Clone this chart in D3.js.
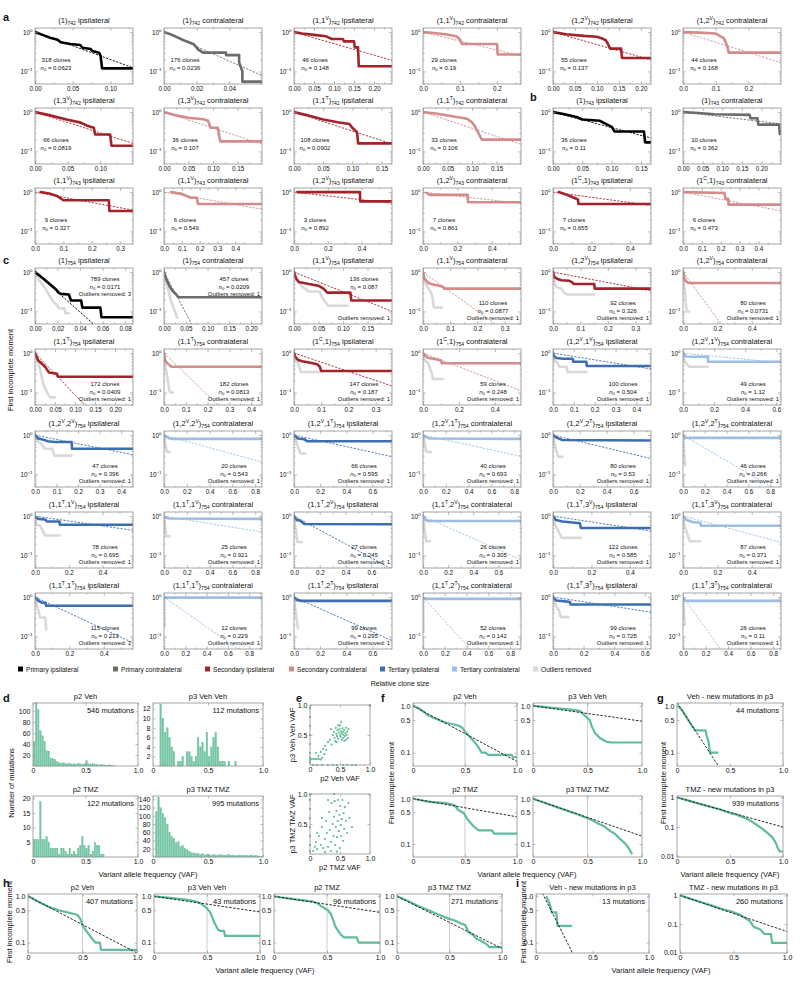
<!DOCTYPE html>
<meta charset="utf-8">
<style>
  body { margin: 0; background: #fff; }
  text { font-family: "Liberation Sans", Arial, Helvetica, sans-serif; white-space: pre; fill: #111; }
</style>
<body>
<svg id="fig" width="800" height="981"></svg>
<script src="https://d3js.org/d3.v7.min.js"></script>
<script>

  // ---------- a, b, c : clone size panels ----------
  const panelTitles = [
    "(1)_742 ipsilateral", "(1)_742 contralateral", "(1,1^V)_742 ipsilateral", "(1,1^V)_742 contralateral", "(1,2^V)_742 ipsilateral", "(1,2^V)_742 contralateral",
    "(1,3^V)_742 ipsilateral", "(1,3^V)_742 contralateral", "(1,1^T)_742 ipsilateral", "(1,1^T)_742 contralateral", "(1)_743 ipsilateral", "(1)_743 contralateral",
    "(1,1^V)_743 ipsilateral", "(1,1^V)_743 contralateral", "(1,2^V)_743 ipsilateral", "(1,2^V)_743 contralateral", "(1^C,1)_743 ipsilateral", "(1^C,1)_743 contralateral",
    "(1)_754 ipsilateral", "(1)_754 contralateral", "(1,1^V)_754 ipsilateral", "(1,1^V)_754 contralateral", "(1,2^V)_754 ipsilateral", "(1,2^V)_754 contralateral",
    "(1,1^T)_754 ipsilateral", "(1,1^T)_754 contralateral", "(1^C,1)_754 ipsilateral", "(1^C,1)_754 contralateral", "(1,2^V,1^V)_754 ipsilateral", "(1,2^V,1^V)_754 contralateral",
    "(1,2^V,2^V)_754 ipsilateral", "(1,2^V,2^V)_754 contralateral", "(1,2^V,1^T)_754 ipsilateral", "(1,2^V,1^T)_754 contralateral", "(1,2^V,2^T)_754 ipsilateral", "(1,2^V,2^T)_754 contralateral",
    "(1,1^T,1^V)_754 ipsilateral", "(1,1^T,1^V)_754 contralateral", "(1,1^T,2^V)_754 ipsilateral", "(1,1^T,2^V)_754 contralateral", "(1,1^T,3^V)_754 ipsilateral", "(1,1^T,3^V)_754 contralateral",
    "(1,1^T,1^T)_754 ipsilateral", "(1,1^T,1^T)_754 contralateral", "(1,1^T,2^T)_754 ipsilateral", "(1,1^T,2^T)_754 contralateral", "(1,1^T,3^T)_754 ipsilateral", "(1,1^T,3^T)_754 contralateral"
  ];

  const panelXMax = [
    0.13, 0.06, 0.245, 0.265, 0.223, 0.3,
    0.15, 0.2, 0.168, 0.2, 0.167, 0.25,
    0.345, 0.55, 0.58, 0.57, 0.51, 0.52,
    0.087, 0.225, 0.2, 0.36, 0.357, 0.57,
    0.245, 0.45, 0.36, 0.545, 0.47, 0.63,
    0.455, 0.86, 0.75, 0.86, 0.73, 0.9,
    0.58, 0.86, 0.76, 0.78, 0.51, 0.57,
    0.57, 0.92, 0.75, 0.9, 0.64, 0.87
  ];

  const panelXTicks = [
    [0, 0.05, 0.1], [0, 0.02, 0.04], [0, 0.05, 0.1, 0.15, 0.2], [0, 0.1, 0.2], [0, 0.05, 0.1, 0.15, 0.2], [0, 0.1, 0.2],
    [0, 0.05, 0.1], [0, 0.05, 0.1, 0.15], [0, 0.05, 0.1, 0.15], [0, 0.05, 0.1, 0.15], [0, 0.05, 0.1, 0.15], [0, 0.05, 0.1, 0.15, 0.2],
    [0, 0.1, 0.2, 0.3], [0, 0.1, 0.2, 0.3, 0.4], [0, 0.2, 0.4], [0, 0.2, 0.4], [0, 0.2, 0.4], [0, 0.1, 0.2, 0.3, 0.4],
    [0, 0.02, 0.04, 0.06, 0.08], [0, 0.05, 0.1, 0.15, 0.2], [0, 0.05, 0.1, 0.15], [0, 0.1, 0.2, 0.3], [0, 0.1, 0.2, 0.3], [0, 0.2, 0.4],
    [0, 0.05, 0.1, 0.15, 0.2], [0, 0.1, 0.2, 0.3, 0.4], [0, 0.1, 0.2, 0.3], [0, 0.2, 0.4], [0, 0.1, 0.2, 0.3, 0.4], [0, 0.2, 0.4, 0.6],
    [0, 0.1, 0.2, 0.3, 0.4], [0, 0.2, 0.4, 0.6, 0.8], [0, 0.2, 0.4, 0.6], [0, 0.2, 0.4, 0.6, 0.8], [0, 0.2, 0.4, 0.6], [0, 0.2, 0.4, 0.6, 0.8],
    [0, 0.2, 0.4], [0, 0.2, 0.4, 0.6, 0.8], [0, 0.2, 0.4, 0.6], [0, 0.2, 0.4, 0.6], [0, 0.2, 0.4], [0, 0.2, 0.4],
    [0, 0.2, 0.4], [0, 0.2, 0.4, 0.6, 0.8], [0, 0.2, 0.4, 0.6], [0, 0.2, 0.4, 0.6, 0.8], [0, 0.2, 0.4, 0.6], [0, 0.2, 0.4, 0.6, 0.8]
  ];

  const panelClones = [
    318, 176, 46, 29, 55, 44, 66, 36, 108, 33, 36, 10, 9, 6, 3, 7, 7, 6,
    789, 457, 136, 110, 92, 80, 172, 182, 147, 59, 100, 49, 47, 20, 66, 40, 80, 46,
    78, 25, 27, 26, 122, 87, 115, 12, 99, 52, 99, 26
  ];

  const panelN0 = [
    "0.0623", "0.0236", "0.148", "0.19", "0.137", "0.168", "0.0819", "0.107", "0.0902", "0.106", "0.11", "0.362",
    "0.327", "0.549", "0.892", "0.861", "0.655", "0.473",
    "0.0171", "0.0209", "0.087", "0.0877", "0.326", "0.0731", "0.0409", "0.0813", "0.187", "0.248", "0.504", "1.12",
    "0.396", "0.543", "0.595", "0.693", "0.53", "0.266", "0.695", "0.921", "0.245", "0.305", "0.585", "0.371",
    "0.213", "0.229", "0.295", "0.142", "0.725", "0.11"
  ];

  const panelOutliers = [
    null, null, null, null, null, null, null, null, null, null, null, null, null, null, null, null, null, null,
    3, 1, 1, 1, 1, 1, 1, 1, 1, 1, 1, 1, 1, 1, 1, 1, 1, 1, 1, 1, 1, 1, 1, 1, 1, 1, 1, 1, 1, 1
  ];

  // where the clone count text sits: a = lower left, t = top right, b = bottom right, s = split
  const panelNotePos = [
    "a", "a", "a", "a", "a", "a", "a", "a", "a", "a", "a", "a", "a", "a", "a", "a", "a", "a",
    "t", "t", "s", "b", "b", "b", "b", "b", "b", "b", "b", "b", "b", "b", "b", "b", "b", "b",
    "b", "b", "b", "b", "b", "b", "b", "b", "b", "b", "b", "b"
  ];

  const panelCurves = [
    [[0,1.0],[0.01,0.85],[0.02,0.72],[0.03,0.64],[0.034,0.55],[0.047,0.5],[0.06,0.47],[0.063,0.4],[0.074,0.37],[0.076,0.33],[0.085,0.3],[0.087,0.25],[0.089,0.12],[0.13,0.12]],
    [[0,1.0],[0.005,0.85],[0.012,0.62],[0.018,0.5],[0.021,0.36],[0.024,0.3],[0.038,0.3],[0.038,0.26],[0.046,0.26],[0.046,0.17],[0.047,0.13],[0.048,0.1],[0.048,0.055],[0.06,0.055]],
    [[0,1.0],[0.02,0.92],[0.05,0.85],[0.08,0.78],[0.095,0.67],[0.122,0.67],[0.125,0.58],[0.15,0.58],[0.152,0.41],[0.16,0.41],[0.162,0.135],[0.245,0.135]],
    [[0,1.0],[0.03,0.95],[0.06,0.88],[0.09,0.78],[0.1,0.65],[0.105,0.5],[0.2,0.5],[0.202,0.27],[0.265,0.27]],
    [[0,1.0],[0.03,0.88],[0.07,0.8],[0.1,0.76],[0.11,0.7],[0.12,0.62],[0.125,0.5],[0.13,0.38],[0.155,0.38],[0.157,0.22],[0.223,0.22]],
    [[0,1.0],[0.05,0.97],[0.1,0.92],[0.115,0.78],[0.125,0.7],[0.135,0.45],[0.14,0.3],[0.3,0.3]],
    [[0,1.0],[0.02,0.85],[0.05,0.64],[0.07,0.54],[0.08,0.45],[0.09,0.4],[0.092,0.27],[0.115,0.27],[0.117,0.14],[0.15,0.14]],
    [[0,1.0],[0.02,0.85],[0.05,0.72],[0.08,0.66],[0.09,0.6],[0.095,0.4],[0.11,0.4],[0.112,0.27],[0.115,0.18],[0.2,0.18]],
    [[0,1.0],[0.02,0.85],[0.05,0.65],[0.075,0.55],[0.095,0.5],[0.1,0.4],[0.108,0.31],[0.11,0.16],[0.168,0.16]],
    [[0,1.0],[0.025,0.92],[0.06,0.78],[0.09,0.68],[0.1,0.55],[0.105,0.45],[0.112,0.31],[0.12,0.2],[0.2,0.2]],
    [[0,1.0],[0.02,0.88],[0.04,0.75],[0.05,0.65],[0.08,0.6],[0.09,0.5],[0.1,0.42],[0.105,0.32],[0.155,0.32],[0.157,0.17],[0.167,0.17]],
    [[0,1.0],[0.04,0.95],[0.08,0.88],[0.17,0.85],[0.172,0.7],[0.19,0.7],[0.192,0.48],[0.245,0.48],[0.247,0.28]],
    [[0.02,1.0],[0.05,0.92],[0.08,0.78],[0.1,0.62],[0.26,0.62],[0.262,0.33],[0.345,0.33]],
    [[0.04,1.0],[0.1,0.9],[0.15,0.72],[0.185,0.72],[0.19,0.5],[0.55,0.5]],
    [[0.02,1.0],[0.39,1.0],[0.392,0.58],[0.58,0.58]],
    [[0.02,0.95],[0.04,0.85],[0.26,0.85],[0.262,0.55],[0.57,0.55]],
    [[0.03,1.0],[0.06,0.9],[0.1,0.75],[0.13,0.65],[0.132,0.5],[0.51,0.5]],
    [[0.01,1.0],[0.22,0.95],[0.225,0.68],[0.24,0.68],[0.242,0.48],[0.52,0.48]],
    [[0,1.0],[0.007,0.7],[0.013,0.5],[0.018,0.38],[0.021,0.3],[0.023,0.28],[0.03,0.27],[0.032,0.19],[0.041,0.19],[0.042,0.125],[0.058,0.125],[0.059,0.071],[0.087,0.071]],
    [[0,1.0],[0.005,0.68],[0.013,0.43],[0.02,0.33],[0.028,0.27],[0.033,0.23],[0.225,0.23]],
    [[0,1.0],[0.004,0.7],[0.01,0.56],[0.03,0.5],[0.05,0.45],[0.06,0.38],[0.068,0.3],[0.115,0.3],[0.117,0.19],[0.2,0.19]],
    [[0,1.0],[0.005,0.68],[0.02,0.53],[0.04,0.48],[0.06,0.45],[0.075,0.42],[0.077,0.38],[0.36,0.38]],
    [[0,1.0],[0.005,0.75],[0.015,0.68],[0.03,0.62],[0.06,0.6],[0.07,0.55],[0.075,0.5],[0.15,0.5],[0.152,0.38],[0.357,0.38]],
    [[0,1.0],[0.005,0.75],[0.015,0.6],[0.03,0.53],[0.57,0.53]],
    [[0,1.0],[0.008,0.65],[0.016,0.55],[0.025,0.45],[0.03,0.38],[0.035,0.32],[0.055,0.3],[0.057,0.25],[0.245,0.25]],
    [[0,1.0],[0.005,0.65],[0.015,0.55],[0.025,0.5],[0.035,0.45],[0.45,0.45]],
    [[0,1.0],[0.005,0.8],[0.015,0.67],[0.03,0.62],[0.06,0.57],[0.085,0.52],[0.095,0.45],[0.1,0.35],[0.36,0.35]],
    [[0,1.0],[0.01,0.88],[0.03,0.75],[0.06,0.72],[0.1,0.65],[0.105,0.55],[0.545,0.55]],
    [[0,1.0],[0.005,0.85],[0.015,0.75],[0.05,0.72],[0.095,0.72],[0.097,0.6],[0.16,0.6],[0.162,0.47],[0.47,0.47]],
    [[0,1.0],[0.02,0.82],[0.16,0.8],[0.162,0.6],[0.63,0.6]],
    [[0,1.0],[0.015,0.82],[0.04,0.76],[0.06,0.7],[0.09,0.67],[0.17,0.67],[0.172,0.45],[0.455,0.45]],
    [[0,1.0],[0.03,0.87],[0.06,0.8],[0.86,0.8]],
    [[0,1.0],[0.03,0.82],[0.08,0.78],[0.1,0.7],[0.75,0.7]],
    [[0,1.0],[0.02,0.9],[0.06,0.82],[0.86,0.8]],
    [[0,1.0],[0.03,0.85],[0.07,0.75],[0.73,0.73]],
    [[0,1.0],[0.02,0.85],[0.9,0.85]],
    [[0,0.95],[0.02,0.85],[0.06,0.82],[0.07,0.73],[0.145,0.73],[0.147,0.6],[0.58,0.6]],
    [[0,0.95],[0.04,0.87],[0.86,0.85]],
    [[0,1.0],[0.02,0.8],[0.05,0.76],[0.08,0.63],[0.76,0.62]],
    [[0,1.0],[0.02,0.8],[0.04,0.75],[0.78,0.75]],
    [[0,1.0],[0.015,0.8],[0.05,0.73],[0.14,0.66],[0.145,0.5],[0.51,0.5]],
    [[0,1.0],[0.02,0.8],[0.06,0.7],[0.1,0.68],[0.105,0.57],[0.57,0.57]],
    [[0,1.0],[0.02,0.8],[0.04,0.72],[0.06,0.72],[0.065,0.6],[0.57,0.6]],
    [[0,0.97],[0.92,0.97]],
    [[0,1.0],[0.02,0.85],[0.06,0.8],[0.75,0.8]],
    [[0,0.95],[0.02,0.9],[0.9,0.9]],
    [[0,1.0],[0.02,0.82],[0.08,0.78],[0.11,0.75],[0.115,0.65],[0.64,0.65]],
    [[0,0.95],[0.02,0.8],[0.87,0.8]]
  ];

  const panelOutlierCurves = [
    null, null, null, null, null, null, null, null, null, null, null, null, null, null, null, null, null, null,
    [[0,1.0],[0.004,0.6],[0.009,0.39],[0.013,0.25],[0.016,0.18],[0.02,0.14],[0.021,0.12],[0.026,0.12],[0.027,0.09],[0.03,0.09]],
    [[0,1.0],[0.004,0.6],[0.01,0.35],[0.015,0.2],[0.02,0.14],[0.025,0.1],[0.03,0.07]],
    [[0,1.0],[0.005,0.62],[0.015,0.45],[0.025,0.36],[0.03,0.32],[0.052,0.32],[0.06,0.2],[0.07,0.14],[0.11,0.14]],
    [[0,1.0],[0.008,0.55],[0.02,0.38],[0.03,0.3],[0.035,0.23],[0.04,0.125],[0.07,0.125]],
    [[0,1.0],[0.005,0.6],[0.01,0.43],[0.03,0.38],[0.04,0.3],[0.05,0.27],[0.15,0.27]],
    [[0,1.0],[0.008,0.45],[0.012,0.3],[0.015,0.18],[0.02,0.12],[0.025,0.1],[0.035,0.1]],
    [[0,1.0],[0.008,0.55],[0.013,0.37],[0.017,0.25],[0.02,0.17],[0.03,0.1],[0.038,0.075],[0.05,0.075]],
    [[0,1.0],[0.005,0.55],[0.01,0.37],[0.015,0.25],[0.02,0.16],[0.025,0.11],[0.03,0.1],[0.04,0.1]],
    [[0,1.0],[0.005,0.65],[0.015,0.55],[0.02,0.45],[0.025,0.33],[0.095,0.33]],
    [[0,1.0],[0.01,0.65],[0.03,0.55],[0.04,0.4],[0.05,0.3],[0.055,0.22],[0.11,0.22]],
    [[0,1.0],[0.005,0.65],[0.02,0.58],[0.03,0.45],[0.065,0.45],[0.07,0.33],[0.16,0.33]],
    [[0,1.0],[0.01,0.65],[0.02,0.55],[0.04,0.45],[0.16,0.45]],
    [[0,1.0],[0.015,0.68],[0.03,0.6],[0.045,0.45],[0.08,0.45],[0.09,0.3],[0.17,0.3]],
    [[0,1.0],[0.01,0.6],[0.02,0.45],[0.03,0.37],[0.05,0.37]],
    [[0,1.0],[0.02,0.65],[0.03,0.5],[0.05,0.34],[0.09,0.34]],
    [[0,1.0],[0.015,0.6],[0.025,0.4],[0.04,0.37],[0.07,0.37]],
    [[0,1.0],[0.01,0.65],[0.02,0.45],[0.04,0.28],[0.07,0.28]],
    [[0,1.0],[0.004,0.65],[0.008,0.45],[0.012,0.3],[0.02,0.17]],
    [[0,1.0],[0.01,0.6],[0.03,0.57],[0.04,0.48],[0.06,0.32],[0.145,0.32]],
    [[0,0.9],[0.01,0.55],[0.02,0.31],[0.05,0.31]],
    [[0,1.0],[0.005,0.6],[0.015,0.45],[0.025,0.22],[0.06,0.22]],
    [[0,1.0],[0.01,0.55],[0.015,0.4],[0.025,0.23],[0.055,0.23]],
    [[0,1.0],[0.01,0.6],[0.025,0.45],[0.035,0.35],[0.045,0.28],[0.145,0.28]],
    [[0,1.0],[0.01,0.55],[0.025,0.35],[0.04,0.23],[0.1,0.23]],
    [[0,1.0],[0.01,0.65],[0.02,0.45],[0.03,0.3],[0.06,0.3],[0.065,0.15]],
    [[0,0.95],[0.005,0.18]],
    [[0,1.0],[0.008,0.55],[0.015,0.38],[0.03,0.16]],
    [[0,0.9],[0.005,0.13]],
    [[0,1.0],[0.02,0.6],[0.04,0.45],[0.05,0.31],[0.1,0.31]],
    [[0,0.95],[0.008,0.4],[0.015,0.2]]
  ];

  const legendLabels = ["Primary ipsilateral", "Primary contralateral", "Secondary ipsilateral", "Secondary contralateral", "Tertiary ipsilateral", "Tertiary contralateral", "Outliers removed"];
  const legendColors = ["#000000", "#6b6b6b", "#a3232a", "#d38b8b", "#3c6eb0", "#9dbde2", "#d9d9d9"];

  // ---------- d : VAF histograms (bins of 0.02) ----------
  const vafBinWidth = 0.02;
  const histP2Veh = [45,116,103,65,55,45,28,27,14,14, 12,8,6,5,6,4,4,5,3,4, 3,5,4,3,4,10,4,3,5,3, 3,2,3,2,2,1,2,1,1,0, 0,0,0,0,0,0,0,0,0,0];
  const histP3Veh = [0,0,0,13,10,7,8,6,4,3, 0,1,1,2,0,3,3,2,1,2, 6,4,5,3,7,2,4,6,7,4, 1,1,1,0,1,0,0,1,0,0, 0,0,0,0,0,0,0,0,0,0];
  const histP2Tmz = [6,6,6,19,6,6,7,5,3,3, 3,3,1,3,3,2,1,3,1,2, 1,3,4,7,4,3,4,1,2,5, 4,4,1,1,0,0,0,0,0,0, 0,0,0,0,0,0,0,0,0,0];
  const histP3Tmz = [0,110,145,120,105,95,80,60,50,45, 35,38,25,28,20,18,14,10,10,8, 9,6,8,5,7,6,4,6,5,4, 6,5,4,5,6,4,5,3,4,5, 3,4,4,3,5,3,4,3,2,1];
  const histTitles = ["p2 Veh", "p3 Veh Veh", "p2 TMZ", "p3 TMZ TMZ"];
  const histCounts = ["546 mutations", "112 mutations", "122 mutations", "995 mutations"];
  const histYMax = [115, 13.2, 20.8, 148];
  const histYTicks = [[20,40,60,80,100], [2,4,6,8,10,12], [5,10,15,20], [20,40,60,80,100,120,140]];

  // ---------- e : VAF scatter ----------
  const scatterVeh = [
    [0.14,0.15],[0.18,0.22],[0.22,0.27],[0.25,0.32],[0.27,0.25],[0.3,0.38],[0.33,0.42],[0.36,0.34],[0.38,0.5],[0.4,0.55],
    [0.41,0.45],[0.43,0.62],[0.44,0.52],[0.45,0.48],[0.46,0.58],[0.47,0.44],[0.48,0.54],[0.49,0.6],[0.5,0.5],[0.5,0.66],
    [0.51,0.47],[0.52,0.56],[0.53,0.52],[0.54,0.61],[0.55,0.45],[0.55,0.55],[0.56,0.5],[0.57,0.58],[0.58,0.48],[0.59,0.53],
    [0.6,0.62],[0.61,0.5],[0.62,0.56],[0.63,0.45],[0.64,0.6],[0.52,0.72],[0.47,0.66],[0.42,0.4],[0.57,0.4],[0.35,0.6],
    [0.44,0.38],[0.53,0.42],[0.6,0.42],[0.2,0.12],[0.1,0.2],[0.24,0.18],
    [0.03,0.1],[0.06,0.1],[0.09,0.1],[0.12,0.1],[0.15,0.1],[0.18,0.09],
    [0,0.04],[0,0.08],[0,0.12],[0,0.2],[0,0.35],[0,0.5],[0,0.65],[0,0.8],[0,0.95],
    [0.05,0],[0.12,0],[0.2,0],[0.3,0],[0.38,0],[0.45,0],[0.55,0],[0.62,0],[0.7,0],[0.76,0],[1,1]
  ];
  const scatterTmz = [
    [0.05,0.05],[0.08,0.12],[0.1,0.2],[0.12,0.08],[0.15,0.3],[0.18,0.15],[0.2,0.45],[0.22,0.1],[0.25,0.25],[0.27,0.55],
    [0.28,0.35],[0.3,0.12],[0.32,0.7],[0.33,0.4],[0.35,0.2],[0.36,0.85],[0.38,0.5],[0.39,0.3],[0.4,0.62],[0.41,0.88],
    [0.42,0.15],[0.43,0.45],[0.44,0.72],[0.45,0.28],[0.46,0.55],[0.47,0.9],[0.48,0.38],[0.49,0.65],[0.5,0.1],[0.5,0.8],
    [0.51,0.48],[0.52,0.3],[0.53,0.58],[0.54,0.9],[0.55,0.22],[0.56,0.68],[0.57,0.42],[0.58,0.78],[0.6,0.55],[0.62,0.35],
    [0.64,0.85],[0.66,0.6],[0.7,0.45],[0.35,0.05],[0.25,0.03],[0.45,0.04],[0.12,0.35],[0.4,1.0],[0.2,0.6],[0.3,0.9],
    [0,0.05],[0,0.15],[0,0.3],[0,0.45],[0,0.6],[0,0.75],[0,0.9],[0,1.0]
  ];

  // ---------- f, g, h, i : first incomplete moment vs VAF ----------
  const fP2Veh = [[0,1.0],[0.05,0.9],[0.1,0.75],[0.15,0.62],[0.2,0.55],[0.25,0.5],[0.3,0.45],[0.35,0.42],[0.4,0.4],[0.45,0.37],[0.48,0.33],[0.5,0.28],[0.53,0.24],[0.56,0.2],[0.6,0.16],[0.63,0.13],[0.66,0.1],[0.7,0.1],[0.72,0.09],[0.95,0.09],[0.96,0.08],[1.0,0.08]];
  const fP3Veh = [[0,1.0],[0.1,0.95],[0.2,0.9],[0.3,0.85],[0.4,0.8],[0.44,0.76],[0.48,0.6],[0.52,0.5],[0.54,0.36],[0.57,0.26],[0.62,0.2],[0.68,0.17],[0.72,0.165],[1.0,0.165]];
  const fP2Tmz = [[0,1.0],[0.16,0.85],[0.32,0.8],[0.4,0.72],[0.43,0.58],[0.49,0.48],[0.52,0.36],[0.55,0.3],[0.58,0.25],[0.62,0.21],[0.64,0.2],[0.76,0.2],[0.78,0.17],[1.0,0.17]];
  const fP3Tmz = [[0,1.0],[0.1,0.83],[0.2,0.68],[0.3,0.56],[0.4,0.46],[0.5,0.37],[0.55,0.33],[0.6,0.28],[0.65,0.25],[0.7,0.2],[0.75,0.17],[0.8,0.13],[0.85,0.1],[0.88,0.08],[0.91,0.06]];
  const gVehNew = [[0.01,1.0],[0.05,0.8],[0.08,0.62],[0.11,0.48],[0.14,0.38],[0.17,0.3],[0.27,0.3],[0.28,0.23],[0.3,0.16],[0.31,0.1],[0.39,0.1]];
  const gTmzNew = [[0,1.0],[0.1,0.8],[0.2,0.63],[0.3,0.5],[0.4,0.4],[0.5,0.3],[0.55,0.27],[0.6,0.23],[0.65,0.2],[0.7,0.16],[0.75,0.12],[0.8,0.09],[0.85,0.065],[0.9,0.045],[0.93,0.03],[0.95,0.02],[0.97,0.015],[1.0,0.015]];
  const hP2Veh = [[0,1.0],[0.05,0.88],[0.1,0.75],[0.2,0.58],[0.28,0.5],[0.38,0.44],[0.45,0.4],[0.48,0.33],[0.5,0.24],[0.52,0.2],[0.55,0.16],[0.59,0.12],[0.62,0.1],[0.66,0.1],[0.67,0.07],[1.0,0.07]];
  const hP3Veh = [[0,1.0],[0.15,0.92],[0.3,0.85],[0.4,0.77],[0.45,0.68],[0.5,0.55],[0.53,0.45],[0.55,0.35],[0.57,0.27],[0.6,0.2],[0.62,0.18],[0.66,0.18],[0.67,0.14],[1.0,0.14]];
  const hP2Tmz = [[0,1.0],[0.1,0.92],[0.22,0.85],[0.36,0.78],[0.41,0.7],[0.46,0.58],[0.51,0.5],[0.54,0.4],[0.56,0.3],[0.58,0.22],[0.63,0.15],[0.66,0.13],[0.78,0.13],[0.8,0.1],[1.0,0.1]];
  const hP3Tmz = [[0,1.0],[0.1,0.8],[0.2,0.62],[0.3,0.5],[0.4,0.4],[0.49,0.33],[0.55,0.3],[0.61,0.26],[0.65,0.24],[0.68,0.17],[0.72,0.15],[0.76,0.12],[0.8,0.11],[0.83,0.1],[0.86,0.09],[0.88,0.08],[1.0,0.08]];
  const iVehNew = [[0.09,1.0],[0.12,0.7],[0.13,0.57],[0.14,0.45],[0.18,0.45],[0.19,0.23],[0.32,0.23]];
  const iTmzNew = [[0,1.0],[0.1,0.76],[0.2,0.58],[0.3,0.44],[0.4,0.33],[0.5,0.26],[0.55,0.22],[0.6,0.17],[0.65,0.13],[0.69,0.08],[0.75,0.065],[0.79,0.045],[0.85,0.045],[0.86,0.022],[1.0,0.022]];

  const fitF = [ [[0,1],[1,0.065]], [[0,1],[1,0.47]], [[0,1],[1,0.4]], [[0,1],[1,0.15]] ];
  const fitG = [ [[0,1.18],[0.39,0.052]], [[0,1],[1,0.1]] ];
  const fitH = [ [[0,1],[1,0.06]], [[0,1],[1,0.46]], [[0,1],[1,0.45]], [[0,1],[1,0.075]] ];
  const fitI = [ [[0.04,1.4],[0.36,0.04]], [[0,1],[1,0.055]] ];

  const hCounts = ["407 mutations", "43 mutations", "96 mutations", "271 mutations"];
  const gCounts = ["44 mutations", "939 mutations"];
  const iCounts = ["13 mutations", "260 mutations"];
  const vafTicks = [0, 0.5, 1];

  // ---------------------------------------------------------------
  const svg = d3.select("#fig");
  const GREEN = "#5fbd97";
  const FRAME = "#8f8f8f";
  let clipCount = 0;

  function addClip(g, w, h) {
    const id = "clip" + (clipCount++);
    g.append("clipPath").attr("id", id).append("rect").attr("width", w).attr("height", h);
    return `url(#${id})`;
  }

  function drawBox(g, x, y, w, h, o) {
    const tl = o.tickLen;
    const pad = o.pad;
    g.append("g").attr("class", "xb").attr("transform", `translate(0,${h})`)
      .call(d3.axisBottom(x).tickValues(o.xTicks).tickFormat(o.xFormat).tickSize(-tl).tickPadding(pad));
    g.append("g").call(d3.axisTop(x).tickValues(o.xTicks).tickFormat("").tickSize(-tl));
    g.append("g").attr("class", "yl")
      .call(d3.axisLeft(y).tickValues(o.yTicks).tickFormat(o.yFormat).tickSize(-tl).tickPadding(pad));
    g.append("g").attr("transform", `translate(${w},0)`).call(d3.axisRight(y).tickValues(o.yTicks).tickFormat("").tickSize(-tl));
    if (o.xMinor) {
      g.append("g").attr("transform", `translate(0,${h})`).call(d3.axisBottom(x).tickValues(o.xMinor).tickFormat("").tickSize(-tl / 2));
      g.append("g").call(d3.axisTop(x).tickValues(o.xMinor).tickFormat("").tickSize(-tl / 2));
    }
    if (o.yMinor) {
      g.append("g").call(d3.axisLeft(y).tickValues(o.yMinor).tickFormat("").tickSize(-tl / 2));
      g.append("g").attr("transform", `translate(${w},0)`).call(d3.axisRight(y).tickValues(o.yMinor).tickFormat("").tickSize(-tl / 2));
    }
    g.selectAll(".domain").remove();
    g.selectAll(".tick line").attr("stroke", FRAME).attr("stroke-width", 0.6);
    g.selectAll(".tick text").attr("font-size", o.fs).attr("font-family", null).attr("fill", "#111");
    g.append("rect").attr("width", w).attr("height", h).attr("fill", "none")
      .attr("stroke", FRAME).attr("stroke-width", 0.8);
  }

  function richText(t, str, fs) {
    let cur = 0;
    (str.match(/\^.|_\d+|[^\^_]+/g) || []).forEach(p => {
      let target = 0, size = fs, s = p;
      if (p[0] === "^") { target = -fs * 0.4; size = fs * 0.68; s = p.slice(1); }
      else if (p[0] === "_") { target = fs * 0.22; size = fs * 0.68; s = p.slice(1); }
      t.append("tspan").attr("dy", target - cur).attr("font-size", size).text(s);
      cur = target;
    });
  }

  function seriesColor(title) {
    const inner = title.match(/\(([^)]*)\)/)[1];
    const level = inner.split(",").length - 1;
    return legendColors[level * 2 + (title.includes("contralateral") ? 1 : 0)];
  }

  // ---------- small panels ----------
  const colLeft = [35, 164, 294, 423, 553, 683];
  const aTop = [28, 108, 188];
  const cTop = [268, 349, 431, 512, 593];
  const PW = 98, PH = 56;
  const smallY = d3.scaleLog().domain([0.048, 1.27]).range([PH, 0]);
  const yMinorSmall = [0.05, 0.06, 0.07, 0.08, 0.09, 0.2, 0.3, 0.4, 0.5, 0.6, 0.7, 0.8, 0.9];

  panelTitles.forEach((title, i) => {
    const isC = i >= 18, j = isC ? i - 18 : i;
    const row = Math.floor(j / 6), col = j % 6;
    const left = colLeft[col], top = isC ? cTop[row] : aTop[row];
    const g = svg.append("g").attr("transform", `translate(${left},${top})`);
    const x = d3.scaleLinear().domain([0, panelXMax[i]]).range([0, PW]);
    const y = smallY;
    const color = seriesColor(title);
    const clip = addClip(g, PW, PH);
    const line = d3.line().x(d => x(d[0])).y(d => y(d[1]));

    if (panelOutlierCurves[i]) {
      g.append("path").datum(panelOutlierCurves[i]).attr("d", line).attr("fill", "none")
        .attr("stroke", legendColors[6]).attr("stroke-width", 2.6).attr("stroke-linejoin", "round")
        .attr("stroke-linecap", "round").attr("clip-path", clip);
    }
    g.append("path").datum(panelCurves[i]).attr("d", line).attr("fill", "none")
      .attr("stroke", color).attr("stroke-width", 2.6).attr("stroke-linejoin", "round")
      .attr("stroke-linecap", "round").attr("clip-path", clip);

    // exponential fit with the given n0
    const n0 = +panelN0[i];
    const xm = panelXMax[i];
    g.append("path").datum([[0, 1], [xm, Math.exp(-xm / n0)]]).attr("d", line).attr("fill", "none")
      .attr("stroke", color).attr("stroke-width", 0.9).attr("stroke-dasharray", "2.2,1.4")
      .attr("clip-path", clip);

    const ticks = panelXTicks[i];
    const step = ticks[1] - ticks[0];
    const fmt = d3.format(step < 0.099 ? ".2f" : ".1f");
    const minor = [];
    for (let k = 0; k < ticks.length; k++) {
      const m = ticks[k] + step / 2;
      if (m < xm) minor.push(m);
    }
    drawBox(g, x, y, PW, PH, {
      xTicks: ticks, xFormat: fmt, yTicks: [1, 0.1], yFormat: () => "",
      xMinor: minor, yMinor: yMinorSmall, fs: 6.3, tickLen: 3, pad: 2.5
    });
    g.select(".yl").selectAll(".tick text").each(function (d) {
      const t = d3.select(this);
      t.append("tspan").text("10");
      t.append("tspan").attr("dy", -2.6).attr("font-size", 4.4).text(d === 1 ? "0" : "\u22121");
    });

    const tt = g.append("text").attr("x", PW / 2).attr("y", -5).attr("text-anchor", "middle")
      .attr("font-size", 7.5);
    richText(tt, title, 7.5);

    // annotations
    const pos = panelNotePos[i];
    const fs = 6;
    let cx, ys;
    if (pos === "a") { cx = 21; ys = [34, 42]; }
    else if (pos === "t") { cx = PW - 28; ys = [13, 20.5, 28]; }
    else if (pos === "s") { cx = PW - 28; ys = [13, 20.5, 52]; }
    else { cx = PW - 28; ys = [37, 44.5, 52]; }
    g.append("text").attr("x", cx).attr("y", ys[0]).attr("text-anchor", "middle").attr("font-size", fs)
      .text(`${panelClones[i]} clones`);
    const t2 = g.append("text").attr("x", cx).attr("y", ys[1]).attr("text-anchor", "middle").attr("font-size", fs);
    t2.append("tspan").attr("font-style", "italic").text("n");
    t2.append("tspan").attr("font-size", fs * 0.7).attr("dy", 1.4).text("0");
    t2.append("tspan").attr("dy", -1.4).text(` = ${panelN0[i]}`);
    if (panelOutliers[i] !== null) {
      g.append("text").attr("x", cx).attr("y", ys[2]).attr("text-anchor", "middle").attr("font-size", fs)
        .text(`Outliers removed: ${panelOutliers[i]}`);
    }
  });

  // panel letters
  function letter(s, x, y) {
    svg.append("text").attr("x", x).attr("y", y).attr("font-size", 11).attr("font-weight", "bold").text(s);
  }
  letter("a", 3, 21); letter("b", 530, 101); letter("c", 3, 264);
  letter("d", 3, 702); letter("e", 296, 702); letter("f", 381, 702); letter("g", 657, 702);
  letter("h", 3, 887); letter("i", 516, 887);

  function label(s, x, y, rot, fs) {
    const t = svg.append("text").attr("text-anchor", "middle").attr("font-size", fs || 7.5).text(s);
    if (rot) t.attr("transform", `translate(${x},${y}) rotate(-90)`);
    else t.attr("x", x).attr("y", y);
    return t;
  }

  label("First incomplete moment", 13, 370, true);

  // legend
  const legendX = [18, 113, 205, 289, 380, 452, 533];
  legendLabels.forEach((s, k) => {
    svg.append("rect").attr("x", legendX[k]).attr("y", 666.5).attr("width", 5).attr("height", 5).attr("fill", legendColors[k]);
    svg.append("text").attr("x", legendX[k] + 8).attr("y", 671.5).attr("font-size", 6.6).text(s);
  });
  label("Relative clone size", 400, 686, false, 7);

  // ---------- d : histograms ----------
  const vafFmt = d => d === 0 ? "0" : d3.format(".1f")(d);
  const histData = [histP2Veh, histP3Veh, histP2Tmz, histP3Tmz];
  const histBox = [[33, 703, 105, 63], [153, 703, 110, 63], [33, 796, 105, 61], [153, 796, 110, 61]];
  histData.forEach((counts, k) => {
    const [left, top, w, h] = histBox[k];
    const g = svg.append("g").attr("transform", `translate(${left},${top})`);
    const x = d3.scaleLinear().domain([0, 1]).range([0, w]);
    const y = d3.scaleLinear().domain([0, histYMax[k]]).range([h, 0]);
    g.selectAll("rect.bar").data(counts).enter().append("rect").attr("class", "bar")
      .attr("x", (c, b) => x(b * vafBinWidth) + 0.25)
      .attr("width", x(vafBinWidth) - 0.5)
      .attr("y", c => y(c)).attr("height", c => h - y(c))
      .attr("fill", "#74c7a5").attr("stroke", "#5cb892").attr("stroke-width", 0.25);
    drawBox(g, x, y, w, h, { xTicks: vafTicks, xFormat: vafFmt, yTicks: histYTicks[k], yFormat: d3.format("d"), fs: 7, tickLen: 2.5, pad: 2.5 });
    g.append("text").attr("x", w / 2).attr("y", -4).attr("text-anchor", "middle").attr("font-size", 7.5).text(histTitles[k]);
    g.append("text").attr("x", w - 4).attr("y", 10).attr("text-anchor", "end").attr("font-size", 7.5).text(histCounts[k]);
  });
  label("Number of mutations", 14, 783, true);
  label("Variant allele frequency (VAF)", 148, 877);

  // ---------- e : scatter ----------
  function scatter(pts, left, top, xLab, yLab) {
    const s = 60;
    const g = svg.append("g").attr("transform", `translate(${left},${top})`);
    const x = d3.scaleLinear().domain([0, 1]).range([0, s]);
    const y = d3.scaleLinear().domain([0, 1]).range([s, 0]);
    g.selectAll("circle").data(pts).enter().append("circle")
      .attr("cx", d => x(d[0])).attr("cy", d => y(d[1])).attr("r", 1.1).attr("fill", GREEN);
    drawBox(g, x, y, s, s, { xTicks: vafTicks, xFormat: vafFmt, yTicks: [0.5, 1], yFormat: d3.format(".1f"), fs: 7, tickLen: 2.5, pad: 2.5 });
    g.append("text").attr("x", s / 2).attr("y", s + 16).attr("text-anchor", "middle").attr("font-size", 7.5).text(xLab);
    g.append("text").attr("transform", `translate(-15,${s / 2}) rotate(-90)`).attr("text-anchor", "middle").attr("font-size", 7.5).text(yLab);
  }
  scatter(scatterVeh, 310, 705, "p2 Veh VAF", "p3 Veh Veh VAF");
  scatter(scatterTmz, 310, 794, "p2 TMZ VAF", "p3 TMZ TMZ VAF");

  // ---------- f, g, h, i ----------
  function curvePanel(curve, fit, left, top, w, h, yDomain, yTicks, yFormat, title, note, vline) {
    const g = svg.append("g").attr("transform", `translate(${left},${top})`);
    const x = d3.scaleLinear().domain([0, 1]).range([0, w]);
    const y = d3.scaleLog().domain(yDomain).range([h, 0]);
    const clip = addClip(g, w, h);
    if (vline) {
      g.append("line").attr("x1", x(0.5)).attr("x2", x(0.5)).attr("y1", 0).attr("y2", h)
        .attr("stroke", "#b8b8b8").attr("stroke-width", 0.7);
    }
    const line = d3.line().x(d => x(d[0])).y(d => y(d[1]));
    g.append("path").datum(curve).attr("d", line).attr("fill", "none").attr("stroke", GREEN)
      .attr("stroke-width", 2.2).attr("stroke-linejoin", "round").attr("clip-path", clip);
    g.append("path").datum(fit).attr("d", line).attr("fill", "none").attr("stroke", "#111")
      .attr("stroke-width", 0.9).attr("stroke-dasharray", "2.5,1.5").attr("clip-path", clip);
    drawBox(g, x, y, w, h, { xTicks: vafTicks, xFormat: vafFmt, yTicks: yTicks, yFormat: yFormat, fs: 7, tickLen: 2.5, pad: 2.5 });
    g.append("text").attr("x", w / 2).attr("y", -4).attr("text-anchor", "middle").attr("font-size", 7.5).text(title);
    if (note) g.append("text").attr("x", w - 4).attr("y", 10).attr("text-anchor", "end").attr("font-size", 7.5).text(note);
  }
  const fmt1 = d3.format(".1f");
  const fmtLog = d => d >= 1 ? "1" : String(d);
  const dom1 = [0.052, 1.15], domH = [0.06, 1.12], dom2 = [0.0098, 1.12];

  curvePanel(fP2Veh, fitF[0], 413, 703, 104, 63, dom1, [1, 0.5, 0.1], fmt1, "p2 Veh", null, true);
  curvePanel(fP3Veh, fitF[1], 533, 703, 109, 63, dom1, [1, 0.5, 0.1], fmt1, "p3 Veh Veh", null, true);
  curvePanel(fP2Tmz, fitF[2], 413, 796, 104, 61, dom1, [1, 0.5, 0.1], fmt1, "p2 TMZ", null, true);
  curvePanel(fP3Tmz, fitF[3], 533, 796, 109, 61, dom1, [1, 0.5, 0.1], fmt1, "p3 TMZ TMZ", null, true);
  curvePanel(gVehNew, fitG[0], 677, 703, 106, 63, dom1, [1, 0.5, 0.1], fmt1, "Veh - new mutations in p3", gCounts[0], false);
  curvePanel(gTmzNew, fitG[1], 677, 796, 106, 61, dom2, [1, 0.1, 0.01], fmtLog, "TMZ - new mutations in p3", gCounts[1], false);
  label("First incomplete moment", 394, 783, true);
  label("First incomplete moment", 666, 783, true);
  label("Variant allele frequency (VAF)", 527, 877);
  label("Variant allele frequency (VAF)", 730, 877);

  const hLeft = [[28, 109], [154, 106], [274, 106], [397, 105]];
  const hData = [hP2Veh, hP3Veh, hP2Tmz, hP3Tmz];
  hData.forEach((c, k) => {
    curvePanel(c, fitH[k], hLeft[k][0], 894, hLeft[k][1], 59, domH, [1, 0.5, 0.1], fmt1, histTitles[k], hCounts[k], true);
  });
  curvePanel(iVehNew, fitI[0], 536, 894, 113, 59, domH, [1, 0.5, 0.1], fmt1, "Veh - new mutations in p3", iCounts[0], false);
  curvePanel(iTmzNew, fitI[1], 680, 894, 107, 59, dom2, [1, 0.1, 0.01], fmtLog, "TMZ - new mutations in p3", iCounts[1], false);
  label("First incomplete moment", 12, 922, true);
  label("First incomplete moment", 526, 922, true);
  label("Variant allele frequency (VAF)", 265, 973);
  label("Variant allele frequency (VAF)", 661, 973);

</script>
</body>
